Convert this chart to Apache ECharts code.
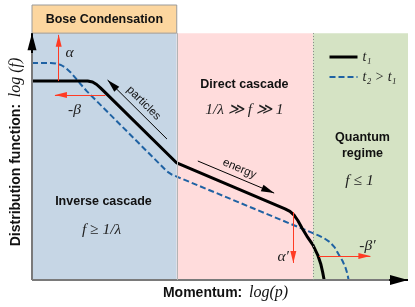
<!DOCTYPE html>
<html><head><meta charset="utf-8">
<script src="https://cdn.jsdelivr.net/npm/echarts@6/dist/echarts.min.js"></script>
<style>html,body{margin:0;padding:0;background:#fff}#c{width:415px;height:307px}</style>
</head><body><div id="c"></div>
<script>
// ---- data (abstract units: x = log p in 0..10, y = log f in 0..10) ----
const t1Curve = [[0,8.06],[1.48,8.06],[1.61,8.02],[1.72,7.92],[1.82,7.78],[1.93,7.62],[3.85,4.74],
  [6.73,2.88],[6.86,2.78],[6.97,2.63],[7.07,2.41],[7.18,2.11],[7.31,1.78],[7.47,1.42],[7.60,1.01],[7.68,0.65],[7.73,0.32],[7.77,0]];
const t2Curve = [[0,8.79],[0.50,8.79],[0.63,8.77],[0.77,8.71],[0.90,8.59],[1.03,8.41],[1.16,8.18],[1.29,7.94],[1.45,7.66],
  [3.59,4.40],[3.72,4.27],[3.88,4.17],[7.47,1.90],[7.63,1.80],[7.78,1.68],[7.92,1.54],[8.05,1.32],[8.15,1.05],[8.26,0.77],[8.34,0.49],[8.39,0.24],[8.42,0]];
const seriesNames = ['t₁', 't₂ > t₁'];
const regionEdges = [0, 3.85, 7.47, 10];
const regionTop = 10, boseTop = 11.14;
const boseLabel = 'Bose Condensation';
// arrows: [tail, head]
const redArrows = [[[0.71,8.06],[0.71,9.93]], [[1.95,7.49],[0.61,7.49]], [[6.95,2.75],[6.95,0.69]], [[7.63,0.97],[9.00,0.97]]];
const blackArrows = [[[3.59,5.71],[2.01,8.10]], [[4.41,4.82],[6.44,3.52]]];
const blackArrowTexts = ['particles', 'energy'];
const regionTitles = ['Direct cascade', 'Quantum\nregime', 'Inverse cascade'];
const regionTitlePos = [[5.65,7.90],[8.79,5.43],[1.90,3.16]];
const mathTexts = ['α', '-β', 'α′', '-β′', '1/λ ≫ f ≫ 1', 'f ≤ 1', 'f ≥ 1/λ'];
const mathPos = [[1.00,9.20],[1.13,6.89],[6.68,0.93],[8.92,1.38],[5.65,6.89],[8.71,4.01],[1.85,2.03]];

// ---- styles ----
const SANS = '"Liberation Sans", Arial, Helvetica, sans-serif';
const SERIF = '"Liberation Serif", "Times New Roman", serif';
const RED = '#ff3b24', BLUE = '#1f62a3';
const regionColors = ['#c6d6e5', '#ffdcdc', '#d5e3c4'];

function arrowLine(tail, head, color, w, h, text) {
  let a = {coord: tail, symbol: 'none'};
  let b = {coord: head, symbol: 'triangle', symbolSize: [w, h], symbolOffset: [0, h / 2]};
  let pair = head[0] < tail[0] - 1e-9 ? [b, a] : [a, b];
  pair[0].lineStyle = {color: color, width: 1, type: 'solid'};
  if (text) {
    pair[0].label = {show: true, position: 'insideMiddleTop', formatter: text, distance: 3,
      fontFamily: SANS, fontSize: 11.5, color: '#111'};
  } else {
    pair[0].label = {show: false};
  }
  return pair;
}

const markLineData = [];
// axes
markLineData.push([{coord: [0, 0], symbol: 'none', lineStyle: {color: '#7a7a7a', width: 2, type: 'solid'}}, {coord: [0, regionTop], symbol: 'none'}]);
markLineData.push([{coord: [0, 0], symbol: 'none', lineStyle: {color: '#7a7a7a', width: 2, type: 'solid'}}, {coord: [10, 0], symbol: 'none'}]);
markLineData.push([{coord: [0, regionTop - 0.8], symbol: 'none', lineStyle: {color: '#000', width: 2, type: 'solid'}},
  {coord: [0, regionTop], symbol: 'triangle', symbolSize: [9, 17], symbolOffset: [0, 8.5]}]);
markLineData.push([{coord: [9.5, 0], symbol: 'none', lineStyle: {color: '#000', width: 2, type: 'solid'}},
  {coord: [10, 0], symbol: 'triangle', symbolSize: [10, 18], symbolOffset: [0, 9]}]);
// region separators
markLineData.push([{coord: [regionEdges[1], 0], symbol: 'none', lineStyle: {color: '#b4b4b4', width: 1, type: 'solid'}}, {coord: [regionEdges[1], regionTop], symbol: 'none'}]);
markLineData.push([{coord: [regionEdges[2], 0], symbol: 'none', lineStyle: {color: '#8a8a8a', width: 1, type: [1, 2]}}, {coord: [regionEdges[2], regionTop], symbol: 'none'}]);
redArrows.forEach(a => markLineData.push(arrowLine(a[0], a[1], RED, 6, 12)));
blackArrows.forEach((a, i) => markLineData.push(arrowLine(a[0], a[1], '#000', 7, 13, blackArrowTexts[i])));
markLineData.forEach(p => { if (!p[0].label) p[0].label = {show: false}; });

const areaData = [];
for (let i = 0; i < 3; i++) {
  areaData.push([{xAxis: regionEdges[i], yAxis: 0, itemStyle: {color: regionColors[i], borderWidth: 0}},
                 {xAxis: regionEdges[i + 1], yAxis: regionTop}]);
}
areaData.push([{xAxis: regionEdges[0], yAxis: regionTop, itemStyle: {color: '#fcd69f', borderColor: '#9a9a9a', borderWidth: 1},
  label: {show: true, position: 'inside', formatter: boseLabel, fontFamily: SANS, fontWeight: 'bold', fontSize: 12.5, color: '#111'}},
  {xAxis: regionEdges[1], yAxis: boseTop}]);

const pointData = [];
regionTitles.forEach((t, i) => pointData.push({coord: regionTitlePos[i], value: 0, symbol: 'circle', symbolSize: 0,
  label: {show: true, position: 'inside', formatter: t, fontFamily: SANS, fontWeight: 'bold', fontSize: 12.5, lineHeight: 16, color: '#111'}}));
mathTexts.forEach((t, i) => pointData.push({coord: mathPos[i], value: 0, symbol: 'circle', symbolSize: 0,
  label: {show: true, position: 'inside', formatter: t, fontFamily: SERIF, fontStyle: 'italic', fontSize: 15.5, color: '#222'}}));

const chart = echarts.init(document.getElementById('c'), null, {renderer: 'canvas'});
chart.setOption({
  animation: false,
  backgroundColor: '#fff',
  grid: {left: 29, right: 7, top: 5, bottom: 27},
  xAxis: {type: 'value', min: 0, max: 10,
    axisLine: {show: false}, axisTick: {show: false}, axisLabel: {show: false}, splitLine: {show: false},
    name: '{b|Momentum:}  {m|log(p)}', nameLocation: 'middle', nameGap: 5,
    nameTextStyle: {padding: [0, 0, 0, 11], rich: {
      b: {fontFamily: SANS, fontWeight: 'bold', fontSize: 14, color: '#111'},
      m: {fontFamily: SERIF, fontStyle: 'italic', fontSize: 16, color: '#111'}}}},
  yAxis: {type: 'value', min: 0, max: boseTop,
    axisLine: {show: false}, axisTick: {show: false}, axisLabel: {show: false}, splitLine: {show: false},
    name: '{b|Distribution function:}  {m|log (f)}', nameLocation: 'middle', nameGap: 8,
    nameTextStyle: {padding: [0, 19, 0, 0], rich: {
      b: {fontFamily: SANS, fontWeight: 'bold', fontSize: 14, color: '#111'},
      m: {fontFamily: SERIF, fontStyle: 'italic', fontSize: 16, color: '#111'}}}},
  legend: {data: seriesNames, orient: 'vertical', left: 323, top: 45, itemWidth: 28, itemHeight: 14, itemGap: 6,
    itemStyle: {opacity: 0}, lineStyle: {width: 'inherit'},
    textStyle: {fontFamily: SERIF, fontStyle: 'italic', fontSize: 14, color: '#222'}},
  series: [
    {type: 'line', name: 'bg', data: [], z: 1, silent: true,
      markArea: {silent: true, data: areaData}},
    {type: 'line', name: seriesNames[1], data: t2Curve, z: 3, symbol: 'none', showSymbol: false,
      lineStyle: {color: BLUE, width: 2, type: [6, 3]}, itemStyle: {color: BLUE}},
    {type: 'line', name: seriesNames[0], data: t1Curve, z: 4, symbol: 'none', showSymbol: false,
      lineStyle: {color: '#000', width: 3}, itemStyle: {color: '#000'}},
    {type: 'line', name: 'notes', data: [], z: 5, silent: true,
      markLine: {silent: true, animation: false, symbol: ['none', 'none'], lineStyle: {type: 'solid'}, data: markLineData},
      markPoint: {silent: true, animation: false, data: pointData}}
  ]
});
</script></body></html>
